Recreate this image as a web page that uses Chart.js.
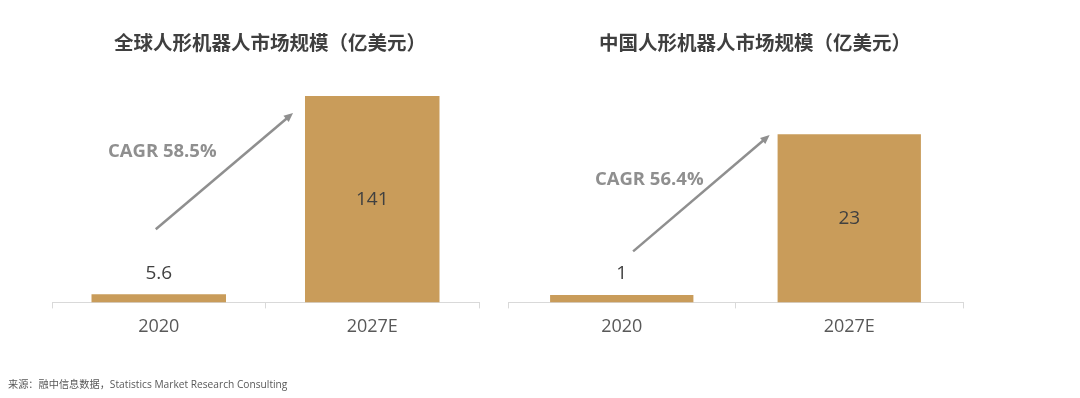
<!DOCTYPE html>
<html>
<head>
<meta charset="utf-8">
<script src="https://cdn.jsdelivr.net/npm/chart.js@4/dist/chart.umd.min.js"></script>
<style>
  body { margin: 0; background: #fff; }
  #wrap { position: relative; width: 1080px; height: 398px; }
  #left { position: absolute; left: 0; top: 0; width: 494px; height: 398px; }
  #right { position: absolute; left: 494px; top: 0; width: 586px; height: 398px; }
  #source {
    position: absolute; left: 8px; top: 376px;
    font: 10.2px "Open Sans", "Noto Sans CJK SC", sans-serif; color: #595959;
  }
</style>
</head>
<body>
<div id="wrap">
  <div id="left"><canvas id="leftChart"></canvas></div>
  <div id="right"><canvas id="rightChart"></canvas></div>
  <div id="source">来源：融中信息数据，Statistics Market Research Consulting</div>
</div>
<script>
// 数据
const years = ['2020', '2027E'];
const globalValues = [5.6, 141];
const chinaValues = [1, 23];
const globalTitle = '全球人形机器人市场规模（亿美元）';
const chinaTitle = '中国人形机器人市场规模（亿美元）';
const globalCagr = 'CAGR 58.5%';
const chinaCagr = 'CAGR 56.4%';

const barColor = '#C99C5A';
const axisColor = '#d9d9d9';
const fontFamily = '"Open Sans", "Noto Sans CJK SC", sans-serif';

// 标题、数值标签、CAGR箭头
const extrasPlugin = {
  id: 'extras',
  afterDatasetsDraw(chart, args, opts) {
    const ctx = chart.ctx;
    const xs = chart.scales.x, ys = chart.scales.y;
    ctx.save();

    // title
    ctx.font = 'bold 19.5px "Noto Sans CJK SC", sans-serif';
    ctx.fillStyle = '#3f3f3f';
    ctx.textAlign = 'center';
    ctx.textBaseline = 'middle';
    ctx.fillText(opts.title, opts.titleX, 43);

    // value labels
    const meta = chart.getDatasetMeta(0);
    ctx.font = '19px ' + fontFamily;
    ctx.fillStyle = '#404040';
    meta.data.forEach((bar, i) => {
      const v = chart.data.datasets[0].data[i];
      const h = bar.base - bar.y;
      const y = h < 40 ? bar.y - 21 : (bar.y + bar.base) / 2;
      ctx.fillText(String(v), bar.x, y);
    });

    // cagr arrow
    const x1 = xs.getPixelForValue(opts.arrowFrom[0]), y1 = ys.getPixelForValue(opts.arrowFrom[1]);
    const x2 = xs.getPixelForValue(opts.arrowTo[0]), y2 = ys.getPixelForValue(opts.arrowTo[1]);
    const ang = Math.atan2(y2 - y1, x2 - x1);
    const head = 10;
    ctx.strokeStyle = '#8f8f8f';
    ctx.fillStyle = '#8f8f8f';
    ctx.lineWidth = 2.5;
    ctx.beginPath();
    ctx.moveTo(x1, y1);
    ctx.lineTo(x2 - head * 0.8 * Math.cos(ang), y2 - head * 0.8 * Math.sin(ang));
    ctx.stroke();
    ctx.beginPath();
    ctx.moveTo(x2, y2);
    ctx.lineTo(x2 - head * Math.cos(ang - 0.42), y2 - head * Math.sin(ang - 0.42));
    ctx.lineTo(x2 - head * Math.cos(ang + 0.42), y2 - head * Math.sin(ang + 0.42));
    ctx.closePath();
    ctx.fill();

    // cagr text
    ctx.font = 'bold 18.5px ' + fontFamily;
    ctx.fillStyle = '#8f8f8f';
    ctx.textAlign = 'left';
    ctx.fillText(opts.cagr, xs.getPixelForValue(opts.cagrAt[0]), ys.getPixelForValue(opts.cagrAt[1]));

    ctx.restore();
  }
};

function makeChart(id, values, yMax, padding, extras) {
  return new Chart(document.getElementById(id), {
    type: 'bar',
    data: {
      labels: years,
      datasets: [{
        data: values,
        backgroundColor: barColor,
        barPercentage: 0.63,
        categoryPercentage: 1.0
      }]
    },
    options: {
      responsive: true,
      maintainAspectRatio: false,
      animation: false,
      layout: { padding: padding },
      plugins: {
        legend: { display: false },
        tooltip: { enabled: false },
        title: { display: false },
        extras: extras
      },
      scales: {
        x: {
          grid: {
            offset: true,
            drawOnChartArea: false,
            drawTicks: true,
            tickLength: 6,
            color: axisColor
          },
          border: { color: axisColor, width: 1 },
          ticks: {
            padding: 8,
            color: '#595959',
            font: { family: fontFamily, size: 18 }
          }
        },
        y: {
          display: false,
          min: 0,
          max: yMax
        }
      }
    },
    plugins: [extrasPlugin]
  });
}

makeChart('leftChart', globalValues, 152, { left: 52, right: 15, top: 80, bottom: 52 }, {
  title: globalTitle,
  titleX: 270,
  cagr: globalCagr,
  cagrAt: [-0.238, 102.7],
  arrowFrom: [-0.014, 50],
  arrowTo: [0.629, 129.4]
});

makeChart('rightChart', chinaValues, 30.4, { left: 14, right: 117, top: 80, bottom: 52 }, {
  title: chinaTitle,
  titleX: 261,
  cagr: chinaCagr,
  cagrAt: [-0.118, 16.8],
  arrowFrom: [0.05, 6.98],
  arrowTo: [0.65, 22.87]
});
</script>
</body>
</html>
